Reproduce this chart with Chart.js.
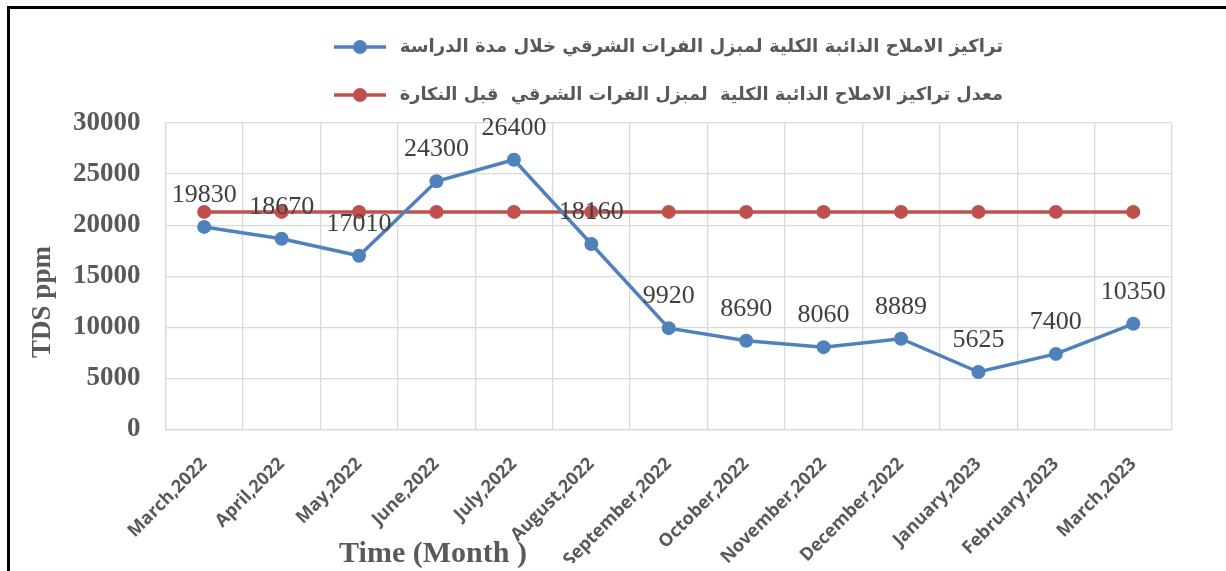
<!DOCTYPE html>
<html>
<head>
<meta charset="utf-8">
<script src="https://cdn.jsdelivr.net/npm/chart.js@4/dist/chart.umd.min.js"></script>
<style>
html,body{margin:0;padding:0;background:#fff;}
#wrap{position:relative;width:1226px;height:571px;}
canvas{display:block;}
</style>
</head>
<body>
<div id="wrap"><canvas id="c" width="1226" height="571"></canvas></div>
<script>
// ---- data ----
const months = ["March,2022","April,2022","May,2022","June,2022","July,2022","August,2022","September,2022","October,2022","November,2022","December,2022","January,2023","February,2023","March,2023"];
const tdsStudy = [19830,18670,17010,24300,26400,18160,9920,8690,8060,8889,5625,7400,10350];
const tdsBefore = [21300,21300,21300,21300,21300,21300,21300,21300,21300,21300,21300,21300,21300];
const seriesNames = [
  "تراكيز الاملاح الذائبة الكلية لمبزل الفرات الشرقي خلال مدة الدراسة",
  "معدل تراكيز الاملاح الذائبة الكلية  لمبزل الفرات الشرقي  قبل النكارة"
];
const yMin = 0, yMax = 30000, yStep = 5000;
const yTitle = "TDS ppm";
const xTitle = "Time (Month )";

// ---- styles ----
const BLUE = "#4F81BD", RED = "#C0504D", GRID = "#d9d9d9", TXT = "#595959";

const framePlugin = {
  id: 'frame',
  beforeDraw(chart) {
    const ctx = chart.ctx;
    ctx.save();
    ctx.fillStyle = '#fff';
    ctx.fillRect(0, 0, chart.width, chart.height);
    ctx.fillStyle = '#000';
    ctx.fillRect(7, 6, chart.width, 3);
    ctx.fillRect(7, 6, 3, chart.height);
    ctx.restore();
  }
};

const labelsPlugin = {
  id: 'valueLabels',
  afterDatasetsDraw(chart) {
    const ctx = chart.ctx;
    const meta = chart.getDatasetMeta(0);
    const vals = chart.data.datasets[0].data;
    ctx.save();
    ctx.font = '26px "Liberation Serif"';
    ctx.fillStyle = '#404040';
    ctx.textAlign = 'center';
    ctx.textBaseline = 'middle';
    meta.data.forEach((pt, i) => {
      ctx.fillText(String(vals[i]), pt.x, pt.y - 32);
    });
    ctx.restore();
  }
};

const legendAndTitlesPlugin = {
  id: 'legendTitles',
  afterDraw(chart) {
    const ctx = chart.ctx;
    ctx.save();
    // legend
    const rowsY = [47, 95];
    chart.data.datasets.forEach((ds, i) => {
      const y = rowsY[i];
      ctx.strokeStyle = ds.borderColor;
      ctx.lineWidth = 3.5;
      ctx.beginPath();
      ctx.moveTo(334, y);
      ctx.lineTo(386, y);
      ctx.stroke();
      ctx.fillStyle = ds.borderColor;
      ctx.beginPath();
      ctx.arc(360, y, 7, 0, Math.PI * 2);
      ctx.fill();
      ctx.fillStyle = TXT;
      ctx.font = 'bold 21px "DejaVu Sans"';
      ctx.direction = 'rtl';
      ctx.textAlign = 'right';
      ctx.textBaseline = 'middle';
      const target = 605;
      const w = ctx.measureText(ds.label).width;
      let size = 21 * target / w;
      ctx.font = 'bold ' + size.toFixed(1) + 'px "DejaVu Sans"';
      ctx.fillText(ds.label, 1003, y);
    });
    ctx.direction = 'ltr';
    // axis titles
    ctx.fillStyle = TXT;
    ctx.textAlign = 'center';
    ctx.textBaseline = 'middle';
    ctx.font = 'bold 30px "Liberation Serif"';
    ctx.fillText(xTitle, 433, 554);
    ctx.save();
    ctx.translate(43, 302);
    ctx.rotate(-Math.PI / 2);
    ctx.font = 'bold 27px "Liberation Serif"';
    ctx.fillText(yTitle, 0, 0);
    ctx.restore();
    ctx.restore();
  }
};

new Chart(document.getElementById('c'), {
  type: 'line',
  data: {
    labels: months,
    datasets: [
      {
        label: seriesNames[0],
        data: tdsStudy,
        borderColor: BLUE,
        backgroundColor: BLUE,
        borderWidth: 3.5,
        pointRadius: 7,
        pointHoverRadius: 7,
        pointBackgroundColor: BLUE,
        pointBorderWidth: 0,
        tension: 0,
        order: 1
      },
      {
        label: seriesNames[1],
        data: tdsBefore,
        borderColor: RED,
        backgroundColor: RED,
        borderWidth: 3.5,
        pointRadius: 7,
        pointHoverRadius: 7,
        pointBackgroundColor: RED,
        pointBorderWidth: 0,
        tension: 0,
        order: 2
      }
    ]
  },
  options: {
    responsive: false,
    animation: false,
    devicePixelRatio: 1,
    layout: { padding: { left: 48, right: 54, top: 123, bottom: 8 } },
    plugins: {
      legend: { display: false },
      tooltip: { enabled: false }
    },
    scales: {
      x: {
        type: 'category',
        offset: true,
        afterFit(scale) {
          scale.paddingLeft = 0;
          scale.paddingRight = 0;
          scale.height = scale.height - 32;
        },
        grid: { offset: true, color: GRID, lineWidth: 1.3, drawTicks: false },
        border: { color: GRID, width: 1.3 },
        ticks: {
          autoSkip: false,
          minRotation: 45,
          maxRotation: 45,
          padding: 24,
          color: TXT,
          font: { family: '"Open Sans"', weight: 'bold', size: 18 }
        }
      },
      y: {
        min: yMin,
        max: yMax,
        grid: { color: GRID, lineWidth: 1.3, drawTicks: false },
        border: { color: GRID, width: 1.3 },
        ticks: {
          stepSize: yStep,
          padding: 25,
          color: TXT,
          callback: (v) => String(v),
          font: { family: '"Liberation Serif"', weight: 'bold', size: 27 }
        }
      }
    }
  },
  plugins: [framePlugin, labelsPlugin, legendAndTitlesPlugin]
});
</script>
</body>
</html>
